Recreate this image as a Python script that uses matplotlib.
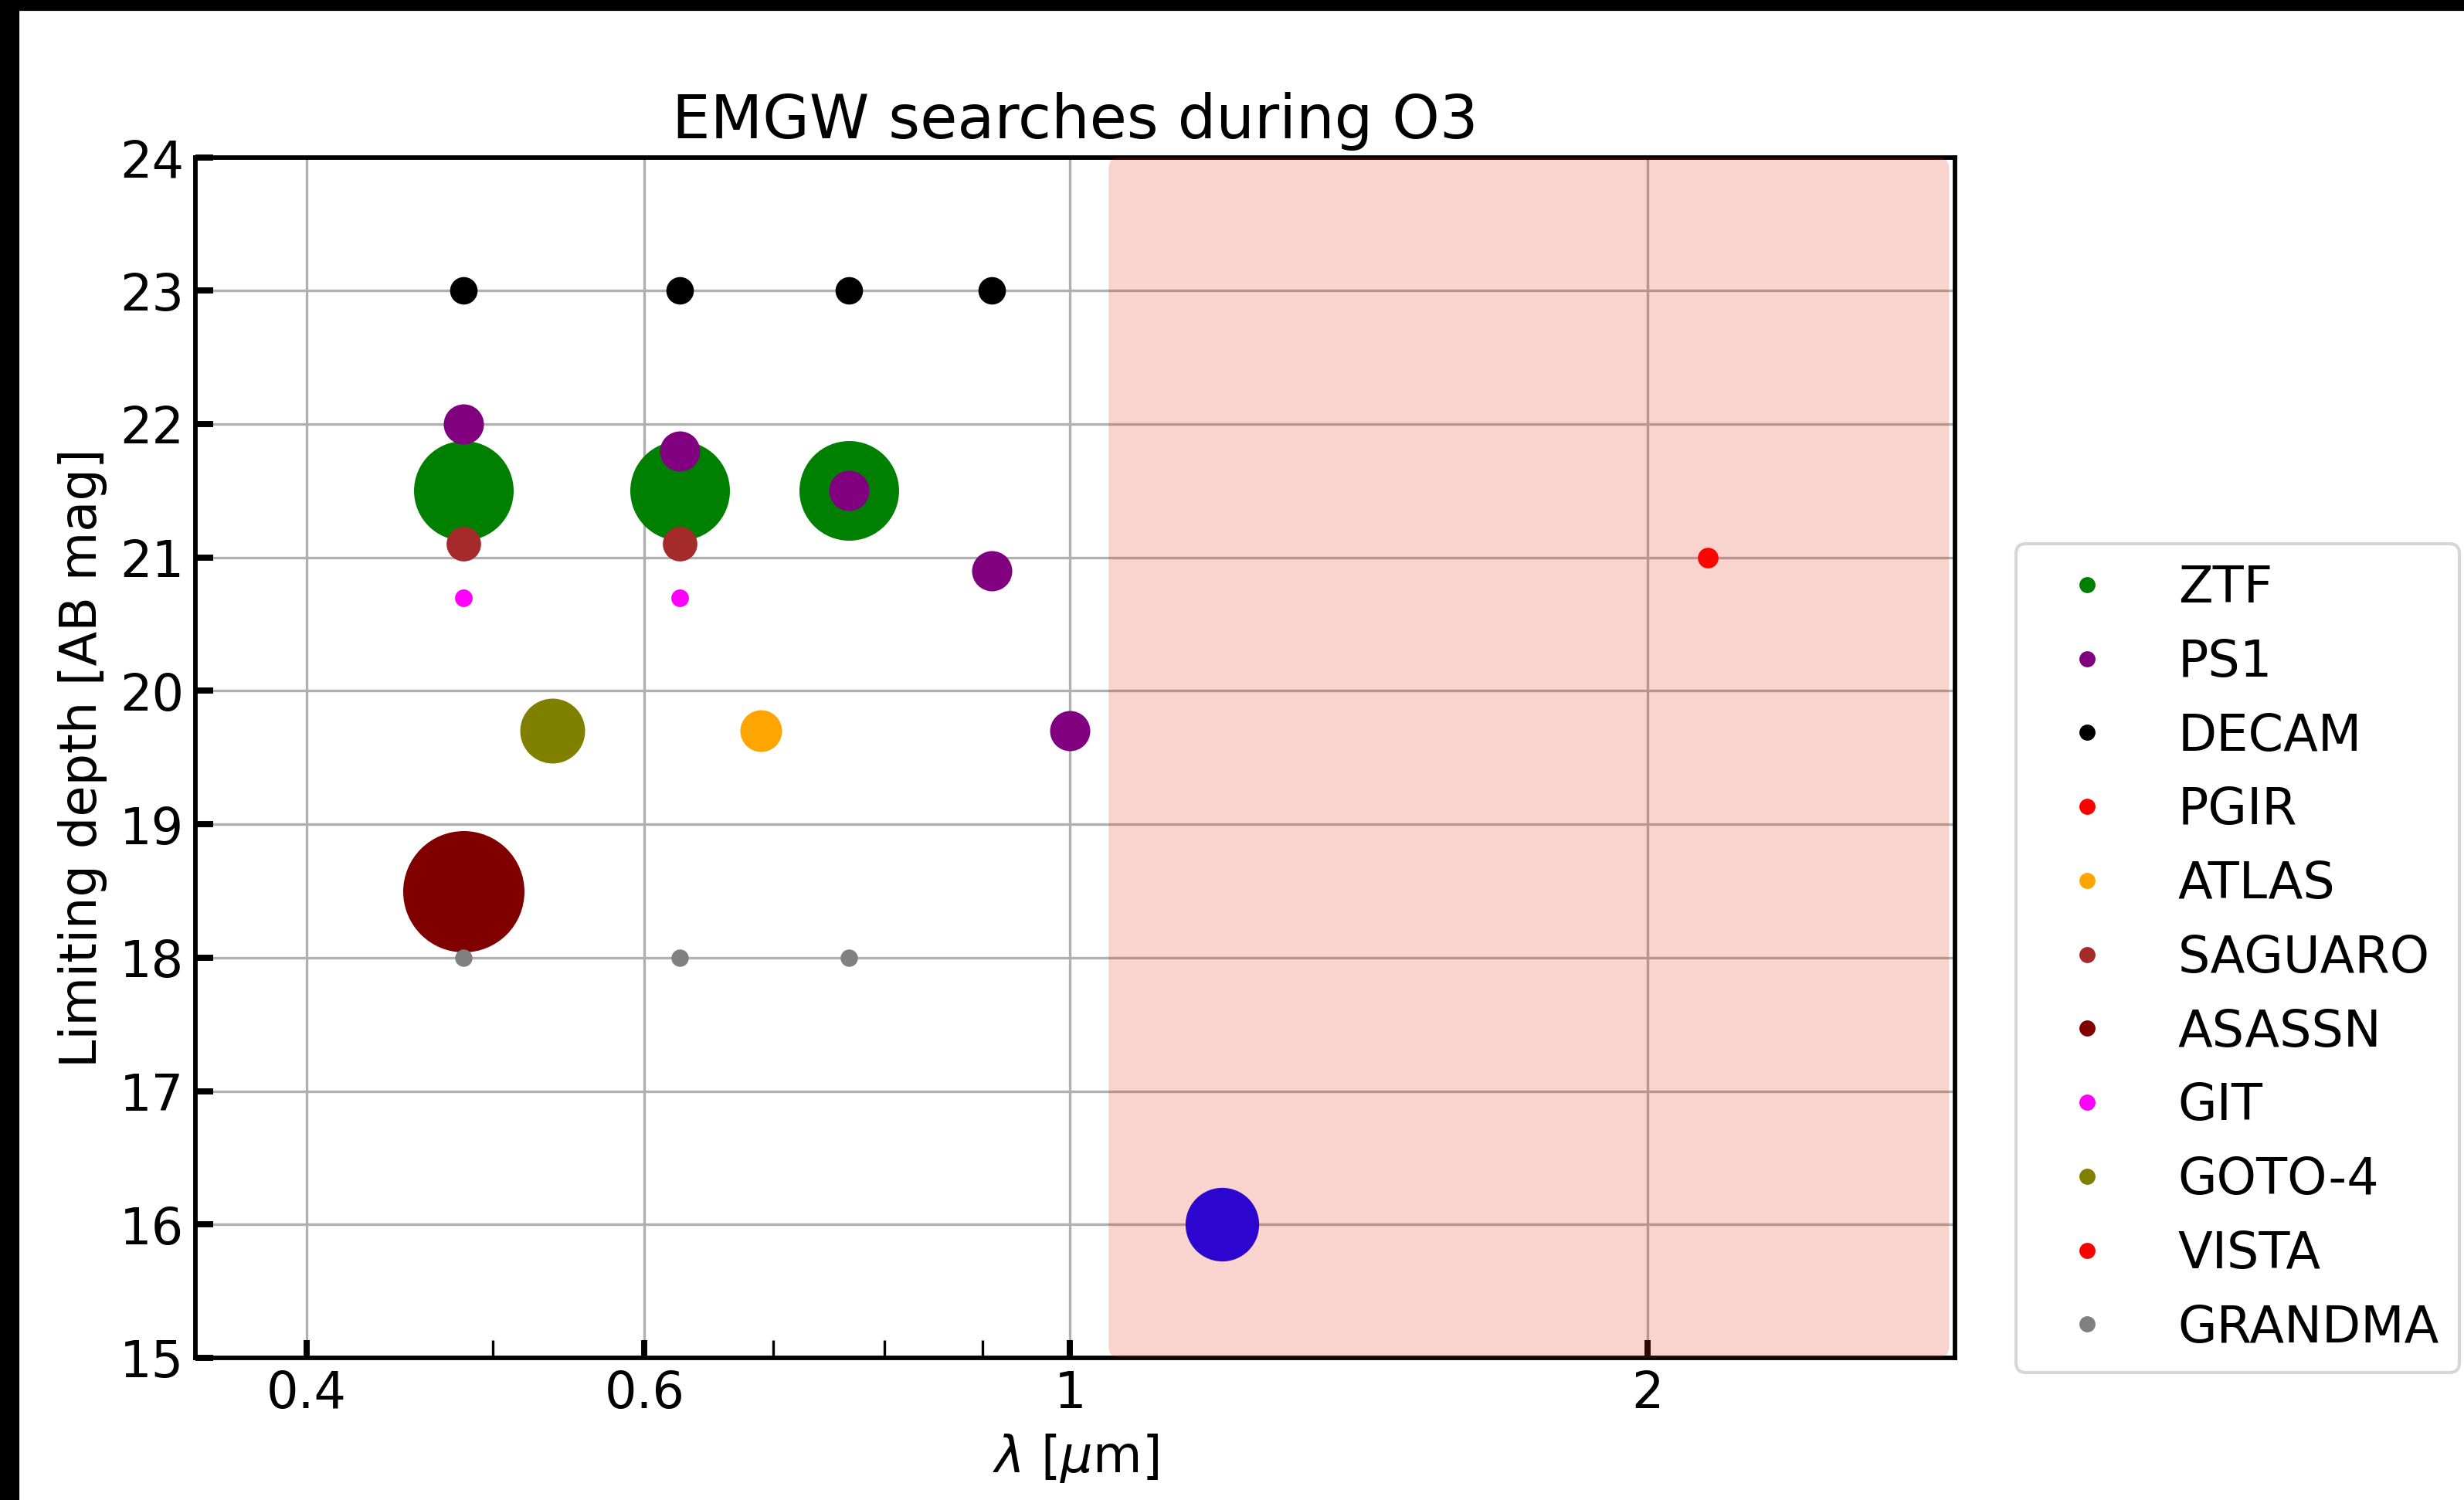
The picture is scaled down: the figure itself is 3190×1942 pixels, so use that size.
import matplotlib
matplotlib.use("Agg")
import matplotlib.pyplot as plt
from matplotlib.lines import Line2D
from matplotlib.patches import FancyBboxPatch, Rectangle
from matplotlib.ticker import FixedLocator, NullFormatter

# ---------------- data ----------------
instruments = ["ZTF", "PS1", "DECAM", "PGIR", "ATLAS", "SAGUARO",
               "ASASSN", "GIT", "GOTO-4", "VISTA", "GRANDMA"]
legend_colors = ["green", "purple", "black", "red", "orange", "brown",
                 "maroon", "magenta", "olive", "red", "gray"]
point_colors = ["green", "purple", "black", "blue", "orange", "brown",
                "maroon", "magenta", "olive", "red", "gray"]

ztf_wl = [0.483, 0.626, 0.767]
ztf_mag = [21.5, 21.5, 21.5]
ps1_wl = [0.483, 0.626, 0.767, 0.910, 1.0]
ps1_mag = [22.0, 21.8, 21.5, 20.9, 19.7]
decam_wl = [0.483, 0.626, 0.767, 0.910]
decam_mag = [23.0, 23.0, 23.0, 23.0]
pgir_wl = [1.2]
pgir_mag = [16.0]
atlas_wl = [0.690]
atlas_mag = [19.7]
saguaro_wl = [0.483, 0.626]
saguaro_mag = [21.1, 21.1]
asassn_wl = [0.483]
asassn_mag = [18.5]
git_wl = [0.483, 0.626]
git_mag = [20.7, 20.7]
goto_wl = [0.537]
goto_mag = [19.7]
vista_wl = [2.15]
vista_mag = [21.0]
grandma_wl = [0.483, 0.626, 0.767]
grandma_mag = [18.0, 18.0, 18.0]

marker_sizes = [958, 156, 73, 523, 168, 115, 1420, 30, 406, 41, 29]

series_wl = [ztf_wl, ps1_wl, decam_wl, pgir_wl, atlas_wl, saguaro_wl,
             asassn_wl, git_wl, goto_wl, vista_wl, grandma_wl]
series_mag = [ztf_mag, ps1_mag, decam_mag, pgir_mag, atlas_mag, saguaro_mag,
              asassn_mag, git_mag, goto_mag, vista_mag, grandma_mag]

xticks = [0.4, 0.6, 1, 2]
xticklabels = ["0.4", "0.6", "1", "2"]
xminor = [0.5, 0.7, 0.8, 0.9]
yticks = list(range(15, 25))
nir_start = 1.0475

# ---------------- figure ----------------
W, H = 3190, 1942
DPI = 300
fig = plt.figure(figsize=((W + 0.4) / DPI, (H + 0.4) / DPI), dpi=DPI)
fig.patch.set_facecolor("white")

ax_l, ax_r, ax_t, ax_b = 253, 2531, 204, 1758
ax = fig.add_axes([ax_l / W, 1 - ax_b / H, (ax_r - ax_l) / W, (ax_b - ax_t) / H])

for wl, mag, c, s in zip(series_wl, series_mag, point_colors, marker_sizes):
    ax.scatter(wl, mag, s=s, c=c, linewidths=0, zorder=2)

ax.set_xscale("log")
ax.set_xlim(0.35, 2.894)
ax.set_ylim(15, 24)
ax.xaxis.set_major_locator(FixedLocator(xticks))
ax.set_xticklabels(xticklabels)
ax.xaxis.set_minor_locator(FixedLocator(xminor))
ax.xaxis.set_minor_formatter(NullFormatter())
ax.set_yticks(yticks)

ax.grid(True, which="major", color="#b0b0b0", lw=0.8)
ax.set_axisbelow(True)

ax.tick_params(which="major", direction="in", length=5.5, width=1.9,
               labelsize=15.7, top=False, right=False)
ax.tick_params(which="minor", direction="in", length=5.5, width=0.8,
               top=False, right=False)
for sp in ax.spines.values():
    sp.set_linewidth(1.4)

ax.set_xlabel(r"$\lambda$ [$\mu$m]", fontsize=15.7)
ax.set_ylabel("Limiting depth [AB mag]", fontsize=15.7)
ax.set_title("EMGW searches during O3", fontsize=18.8)

# shaded NIR region (rounded box)
x0 = ax.transAxes.inverted().transform(ax.transData.transform((nir_start, 15)))[0]
x1 = 0.9965
wpx = ax_r - ax_l
hpx = ax_b - ax_t
box = FancyBboxPatch((x0, 0.0), x1 - x0, 1.0,
                     boxstyle="round,pad=0,rounding_size=%f" % (15 / wpx),
                     mutation_aspect=wpx / hpx,
                     transform=ax.transAxes, fc="#e1230a", alpha=0.2,
                     ec="none", zorder=3, clip_on=False)
ax.add_patch(box)

# legend
handles = [Line2D([], [], ls="none", marker="o", color=c, markersize=4)
           for c in legend_colors]
fig.legend(handles, instruments, loc="upper left",
           bbox_to_anchor=(2610 / W, 1 - 704 / H),
           bbox_transform=fig.transFigure, borderaxespad=0,
           fontsize=15.7, labelspacing=0.485)

# black edge strips
fig.add_artist(Rectangle((0, 1 - 12 / H), 1, 12 / H, transform=fig.transFigure,
                         color="black", zorder=10))
fig.add_artist(Rectangle((0, 0), 22.5 / W, 1, transform=fig.transFigure,
                         color="black", zorder=10))

fig.savefig("out.png", dpi=DPI)
